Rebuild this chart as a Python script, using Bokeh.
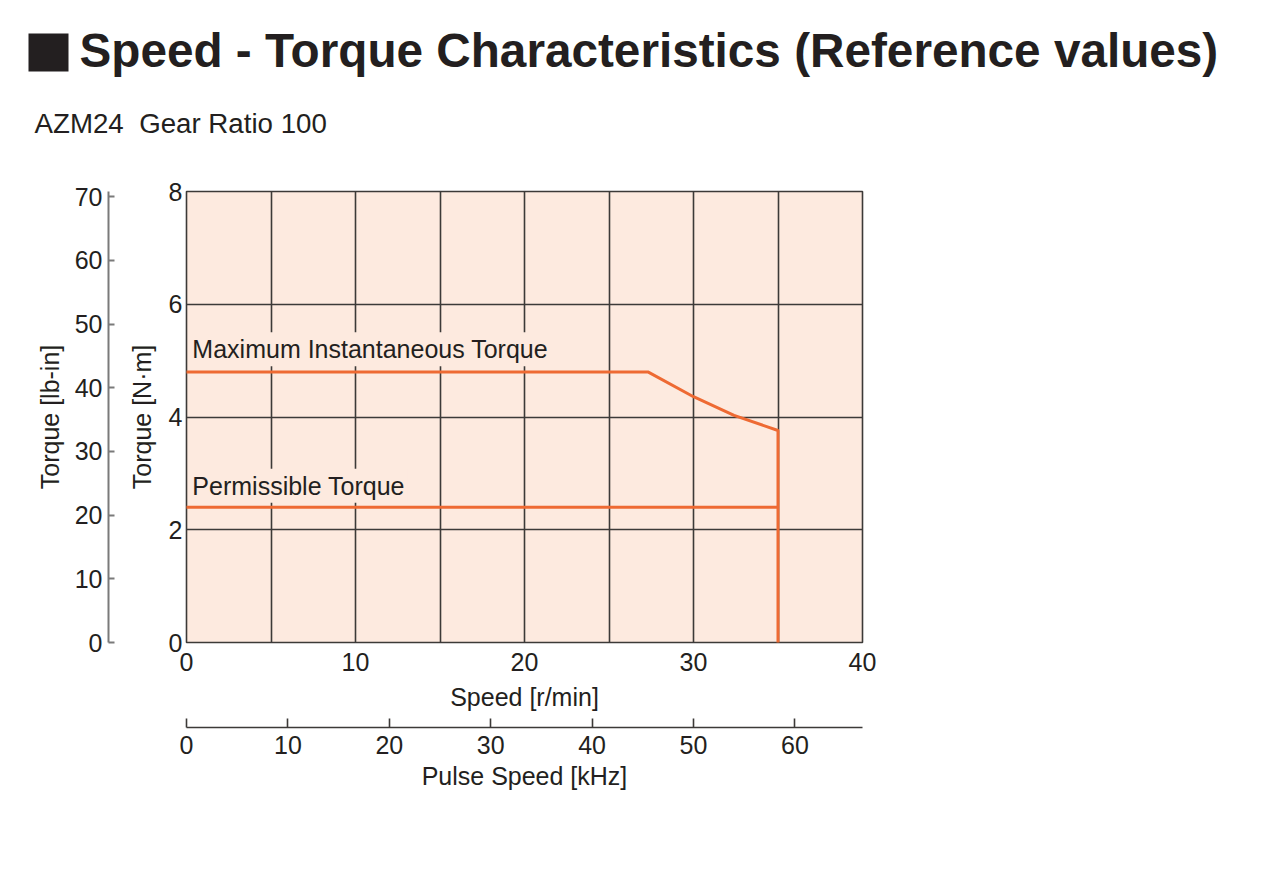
from bokeh.plotting import figure
from bokeh.layouts import column
from bokeh.models import Range1d, LinearAxis, SingleIntervalTicker, FixedTicker, Label
from bokeh.embed import file_html
from bokeh.resources import INLINE

# ---------------- data ----------------
speed_max = [0.0, 27.3, 30.0, 32.4, 35.0, 35.0]      # r/min
torque_max = [4.8, 4.8, 4.36, 4.03, 3.76, 0.0]       # N·m
speed_perm = [0.0, 35.0]
torque_perm = [2.4, 2.4]

speed_range = [0, 40]            # r/min
torque_range = [0, 8]            # N·m
NM_TO_LBIN = 8.8507              # 1 N·m in lb-in
PULSE_AT_MAX_SPEED = 66.667      # kHz at 40 r/min

title_text = "Speed - Torque Characteristics (Reference values)"
subtitle_text = "AZM24\u00a0 Gear Ratio 100"
label_max = "Maximum Instantaneous Torque"
label_perm = "Permissible Torque"

# ---------------- style ----------------
FONT = "Liberation Sans"
TXT = "#231f20"
BG = "#fdeadf"
ORANGE = "#ee6a33"
GRID = "#3c3a38"
HEADER_H = 150

# ---------------- header ----------------
h = figure(width=1264, height=HEADER_H, output_backend="svg", toolbar_location=None,
           x_range=Range1d(0, 1264), y_range=Range1d(HEADER_H, 0),
           x_axis_location=None, y_axis_location=None, min_border=0, frame_align=False)
h.grid.visible = False
h.outline_line_color = None
h.background_fill_color = "white"
h.border_fill_color = "white"
h.quad(left=[28], right=[68], top=[33], bottom=[71], fill_color=TXT, line_color=None)
h.add_layout(Label(x=79, y=50, text=title_text, text_font=FONT, text_font_size="47.7px",
                   text_font_style="bold", text_color=TXT, text_baseline="alphabetic"))
h.add_layout(Label(x=34, y=123, text=subtitle_text, text_font=FONT, text_font_size="27.7px",
                   text_color=TXT, text_baseline="alphabetic"))

# ---------------- main chart ----------------
p = figure(width=900, height=662, output_backend="svg", toolbar_location=None,
           x_range=Range1d(*speed_range), y_range=Range1d(*torque_range),
           min_border_left=186, min_border_right=38, min_border_top=41, min_border_bottom=170,
           frame_align=False)
p.extra_y_ranges = {"lbin": Range1d(torque_range[0] * NM_TO_LBIN, torque_range[1] * NM_TO_LBIN)}
p.extra_x_ranges = {"pulse": Range1d(0, PULSE_AT_MAX_SPEED)}

p.background_fill_color = BG
p.border_fill_color = "white"
p.outline_line_color = GRID
p.outline_line_width = 1.6

p.xgrid[0].ticker = SingleIntervalTicker(interval=5, num_minor_ticks=0)
p.ygrid[0].ticker = SingleIntervalTicker(interval=2, num_minor_ticks=0)
for g in (p.xgrid[0], p.ygrid[0]):
    g.grid_line_color = GRID
    g.grid_line_width = 1.6
    g.grid_line_alpha = 1.0


def style_axis(ax):
    ax.major_label_text_font = FONT
    ax.major_label_text_font_size = "25px"
    ax.major_label_text_color = TXT
    ax.axis_label_text_font = FONT
    ax.axis_label_text_font_size = "25px"
    ax.axis_label_text_font_style = "normal"
    ax.axis_label_text_color = TXT
    ax.minor_tick_line_color = None
    ax.minor_tick_in = 0
    ax.minor_tick_out = 0


def spacer(size, tick_at):
    # an invisible axis whose only role is to reserve `size` pixels of room
    ax = LinearAxis(ticker=FixedTicker(ticks=[tick_at]), axis_line_color=None,
                    major_tick_line_color=None, major_tick_out=size, major_tick_in=0,
                    major_label_standoff=0, major_label_text_font_size="1px",
                    major_label_overrides={tick_at: ""},
                    minor_tick_out=0, minor_tick_in=0, minor_tick_line_color=None)
    return ax


# speed axis
xa = p.xaxis[0]
xa.ticker = SingleIntervalTicker(interval=10, num_minor_ticks=0)
style_axis(xa)
xa.axis_line_color = None
xa.major_tick_line_color = None
xa.major_tick_out = 0
xa.major_tick_in = 0
xa.major_label_standoff = 10
xa.axis_label = "Speed [r/min]"
xa.axis_label_standoff = 9

# N·m axis
ya = p.yaxis[0]
ya.ticker = SingleIntervalTicker(interval=2, num_minor_ticks=0)
style_axis(ya)
ya.axis_line_color = None
ya.major_tick_line_color = None
ya.major_tick_out = 0
ya.major_tick_in = 0
ya.major_label_standoff = 4
ya.axis_label = "Torque [N·m]"
ya.axis_label_standoff = 10

# spacer then lb-in axis on the left
p.add_layout(spacer(16, 4), "left")
lb = LinearAxis(y_range_name="lbin", ticker=SingleIntervalTicker(interval=10, num_minor_ticks=0))
style_axis(lb)
lb.axis_line_color = "#7a7a7a"
lb.axis_line_width = 2
lb.major_tick_line_color = "#7a7a7a"
lb.major_tick_line_width = 2
lb.major_tick_in = 6
lb.major_tick_out = 0
lb.major_label_standoff = 6
lb.axis_label = "Torque [lb-in]"
lb.axis_label_standoff = 8
p.add_layout(lb, "left")

# spacer then pulse speed axis below
p.add_layout(spacer(14, 20), "below")
pa = LinearAxis(x_range_name="pulse", ticker=SingleIntervalTicker(interval=10, num_minor_ticks=0))
style_axis(pa)
pa.axis_line_color = GRID
pa.axis_line_width = 1.6
pa.major_tick_line_color = GRID
pa.major_tick_line_width = 1.6
pa.major_tick_in = 9
pa.major_tick_out = 0
pa.major_label_standoff = 8
pa.axis_label = "Pulse Speed [kHz]"
pa.axis_label_standoff = 5
p.add_layout(pa, "below")

# curves (drawn above the label boxes)
p.line(speed_max, torque_max, line_color=ORANGE, line_width=3, level="overlay")
p.line(speed_perm, torque_perm, line_color=ORANGE, line_width=3, level="overlay")

# curve labels
for txt, yy in ((label_max, 5.2), (label_perm, 2.78)):
    p.add_layout(Label(x=0.17, y=yy, text=txt, text_font=FONT, text_font_size="25px",
                       text_color=TXT, text_baseline="alphabetic", text_align="left",
                       background_fill_color=BG, padding=3))

layout = column(h, p)
open("out.html", "w").write(file_html(layout, INLINE))
